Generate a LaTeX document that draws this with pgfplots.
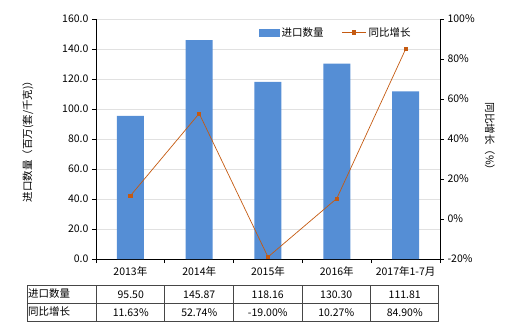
\documentclass[border=0pt]{standalone}
\usepackage{pgfplots}
\pgfplotsset{compat=1.18}
\usepackage{fontspec}
\setmainfont{Noto Sans CJK SC}
\definecolor{barc}{RGB}{85,142,213}
\definecolor{linec}{RGB}{197,90,17}
\definecolor{gridc}{RGB}{225,225,225}
\definecolor{tabc}{RGB}{70,70,70}
\pgfplotsset{linelegend/.style={legend image code/.code={\draw[mark repeat=2,mark phase=2,##1] plot coordinates {(0pt,0.5pt) (12pt,0.5pt) (24pt,0.5pt)};}}}
\begin{document}
\begin{tikzpicture}[x=1pt,y=1pt,font=\fontsize{10.5}{12}\selectfont]
\path[use as bounding box] (-96,-71) rectangle (424,259);
\begin{axis}[
  at={(0,0)}, anchor=south west,
  scale only axis, width=344pt, height=240pt,
  xmin=-0.5, xmax=4.5, ymin=0, ymax=160,
  axis x line*=bottom, axis y line*=left, axis line style={-},
  xtick={-0.5,0.5,1.5,2.5,3.5,4.5},
  x tick label as interval,
  xticklabels={2013年,2014年,2015年,2016年,2017年1-7月},
  ytick={0,20,...,160},
  ymajorgrids, grid style={gridc, line width=0.6pt},
  tick align=outside, major tick length=4pt,
  tick style={black, line width=0.6pt},
  /pgf/number format/assume math mode=true,
  yticklabel={\pgfmathprintnumber[fixed,fixed zerofill,precision=1]{\tick}},
  every axis y label/.style={at={(axis description cs:-0.198,0.5)},anchor=center,rotate=90},
  ylabel={进口数量（百万(套/千克)）},
  legend style={draw=none, fill=none, legend columns=2, at={(axis description cs:0.93,0.98)}, anchor=north east, /tikz/every even column/.append style={column sep=16pt}},
  clip=false,
]
\addplot[ybar, bar width=27pt, bar shift=0pt, fill=barc, draw=none, legend image code/.code={\fill[barc] (0pt,-3.5pt) rectangle (21pt,4pt);}] coordinates {(0,95.50) (1,145.87) (2,118.16) (3,130.30) (4,111.81)};
\addlegendentry{进口数量}
\addlegendimage{linec, line width=1.2pt, mark=square*, mark size=1.6pt, linelegend}
\addlegendentry{同比增长}
\end{axis}
\begin{axis}[
  at={(0,0)}, anchor=south west,
  scale only axis, width=344pt, height=240pt,
  xmin=-0.5, xmax=4.5, ymin=-20, ymax=100,
  axis x line=none, axis y line*=right, axis line style={-},
  ytick={-20,0,...,100},
  tick align=outside, major tick length=4pt,
  tick style={black, line width=0.6pt},
  /pgf/number format/assume math mode=true,
  yticklabel={\pgfmathprintnumber{\tick}\%},
  every axis y label/.style={at={(axis description cs:1.145,0.5)},anchor=center,rotate=-90},
  ylabel={同比增长（\%）},
  clip=false,
]
\addplot[linec, line width=0.7pt, mark=square*, mark size=1.6pt, mark options={linec}] coordinates {(0,11.63) (1,52.74) (2,-19.00) (3,10.27) (4,84.90)};
\end{axis}
% table
\begin{scope}[tabc, line width=0.7pt]
\draw (-69,-26) rectangle (342,-62);
\draw (-69,-44) -- (342,-44);
\foreach \xx in {0.7,68.5,137,206,274} \draw (\xx,-26) -- (\xx,-62);
\end{scope}
\node[anchor=west,inner sep=0pt] at (-68,-34.5) {进口数量};
\node[anchor=west,inner sep=0pt] at (-68,-52.5) {同比增长};
\foreach \v [count=\i from 0] in {95.50,145.87,118.16,130.30,111.81}
  \node at ({(\i+0.5)*68.5+0.5},-35.5) {\v};
\foreach \v [count=\i from 0] in {11.63\%,52.74\%,-19.00\%,10.27\%,84.90\%}
  \node at ({(\i+0.5)*68.5+0.5},-53.5) {\v};
\end{tikzpicture}
\end{document}
